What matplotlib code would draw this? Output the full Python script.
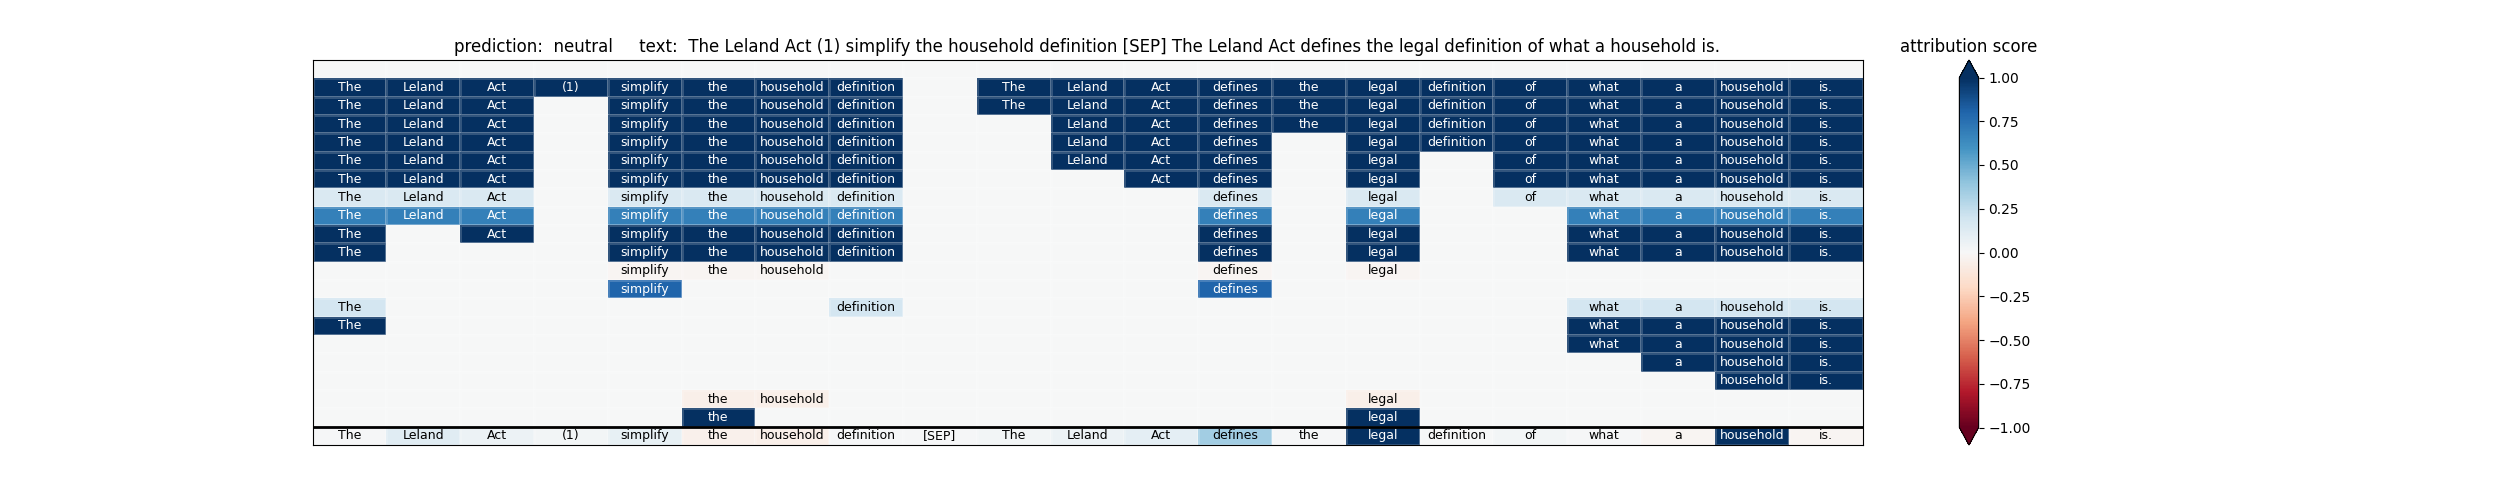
import numpy as np
import matplotlib
matplotlib.use("Agg")
import matplotlib.pyplot as plt

# tokens of the input pair
tokens = ["The", "Leland", "Act", "(1)", "simplify", "the", "household", "definition",
          "[SEP]", "The", "Leland", "Act", "defines", "the", "legal", "definition",
          "of", "what", "a", "household", "is."]

prediction = "neutral"

# which tokens appear in each row of the hierarchy (top to bottom)
row_members = [
    [],
    [0, 1, 2, 3, 4, 5, 6, 7, 9, 10, 11, 12, 13, 14, 15, 16, 17, 18, 19, 20],
    [0, 1, 2, 4, 5, 6, 7, 9, 10, 11, 12, 13, 14, 15, 16, 17, 18, 19, 20],
    [0, 1, 2, 4, 5, 6, 7, 10, 11, 12, 13, 14, 15, 16, 17, 18, 19, 20],
    [0, 1, 2, 4, 5, 6, 7, 10, 11, 12, 14, 15, 16, 17, 18, 19, 20],
    [0, 1, 2, 4, 5, 6, 7, 10, 11, 12, 14, 16, 17, 18, 19, 20],
    [0, 1, 2, 4, 5, 6, 7, 11, 12, 14, 16, 17, 18, 19, 20],
    [0, 1, 2, 4, 5, 6, 7, 12, 14, 16, 17, 18, 19, 20],
    [0, 1, 2, 4, 5, 6, 7, 12, 14, 17, 18, 19, 20],
    [0, 2, 4, 5, 6, 7, 12, 14, 17, 18, 19, 20],
    [0, 4, 5, 6, 7, 12, 14, 17, 18, 19, 20],
    [4, 5, 6, 12, 14],
    [4, 12],
    [0, 7, 17, 18, 19, 20],
    [0, 17, 18, 19, 20],
    [17, 18, 19, 20],
    [18, 19, 20],
    [19, 20],
    [5, 6, 14],
    [5, 14],
]

# one attribution score per row
row_scores = [0.0, 1.0, 1.0, 1.0, 1.0, 1.0, 1.0, 0.15, 0.68, 1.0, 1.0,
              -0.02, 0.8, 0.18, 1.0, 1.0, 1.0, 1.0, -0.06, 1.0]

# per-token scores of the full sentence (bottom row)
base_scores = [0.01, 0.12, 0.06, 0.03, 0.08, -0.05, -0.06, 0.01, 0.01, 0.03, 0.06,
               0.1, 0.35, 0.01, 1.0, 0.0, 0.03, 0.01, -0.02, 1.0, -0.02]

n_cols = len(tokens)
n_rows = len(row_members) + 1

values = np.zeros((n_rows, n_cols))
shown = np.zeros((n_rows, n_cols), dtype=bool)
for i, (members, score) in enumerate(zip(row_members, row_scores)):
    for j in members:
        values[i, j] = score
        shown[i, j] = True
values[-1, :] = base_scores
shown[-1, :] = True

fig, ax = plt.subplots(figsize=(25, 5), dpi=100)
mesh = ax.pcolormesh(values, cmap="RdBu", vmin=-1, vmax=1,
                     edgecolors=(1, 1, 1, 0.18), linewidth=0.8)
ax.set_xlim(0, n_cols)
ax.set_ylim(n_rows, 0)

for i in range(n_rows):
    for j in range(n_cols):
        if shown[i, j]:
            col = "white" if abs(values[i, j]) > 0.5 else "black"
            ax.text(j + 0.5, i + 0.5, tokens[j], ha="center", va="center",
                    fontsize=9, color=col)

ax.axhline(n_rows - 1, color="black", linewidth=2)
ax.set_xticks([])
ax.set_yticks([])

sentence = " ".join(tokens)
ax.set_title("prediction:  " + prediction + "     text:  " + sentence)

cbar = fig.colorbar(mesh, ax=ax, extend="both")
cbar.set_ticks([1.0, 0.75, 0.5, 0.25, 0.0, -0.25, -0.5, -0.75, -1.0])
cbar.ax.set_title("attribution score")

fig.savefig("out.png", dpi=100)
